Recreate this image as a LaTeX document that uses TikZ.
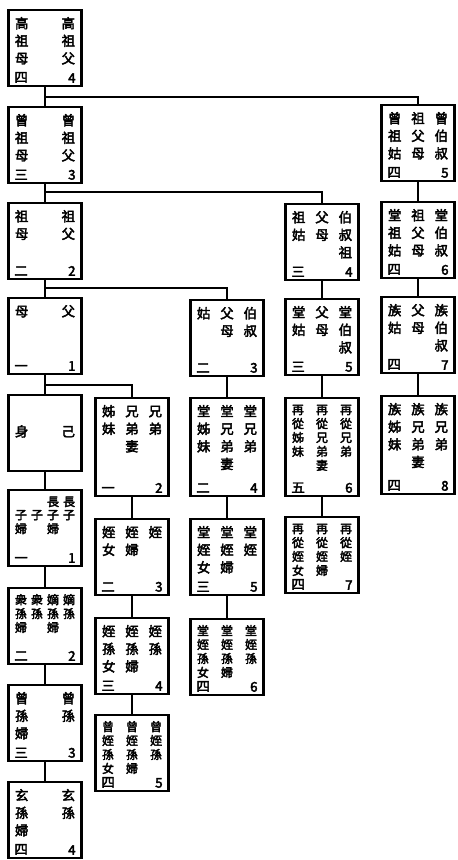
\documentclass[tikz,border=0pt]{standalone}
\usepackage{fontspec}
\usepackage{array}
\newfontfamily\cjk[AutoFakeBold=3]{Noto Sans CJK TC}
\newcommand\kcol[2]{\setlength\tabcolsep{0pt}\begin{tabular*}{1.5cm}[t]{@{\extracolsep{\fill}}#1@{}}#2\end{tabular*}}

\begin{document}
\begin{tikzpicture}[x=0.025cm, y=-0.025cm,
  kframe/.style={draw, line width=1.8pt, inner xsep=0.16cm, inner ysep=2pt, text width=1.5cm,
    minimum height=1.9cm, font=\cjk\bfseries\fontsize{9.5}{12.5}\selectfont},
  kbox/.style={kframe, text height=11pt, text depth=39pt},
  tall/.style={text depth=54.7pt},
  dense/.style={font=\cjk\bfseries\fontsize{8.5}{9.2}\selectfont, text height=9.5pt, text depth=40.5pt},
  tallden/.style={dense, text depth=56.2pt},
  knum/.style={font=\cjk\bfseries\fontsize{9.5}{10}\selectfont, inner xsep=0.17cm, inner ysep=3pt,
    text width={}, text height={}, text depth={}, draw=none},
  rnum/.style={label={[knum, anchor=south east]south east:#1}},
  lnum/.style={label={[knum, anchor=south west]south west:#1}},
  link/.style={line width=1.4pt}]
  \useasboundingbox (0,0) rectangle (458,860);

  \node[kbox, rnum=4, lnum=四] (gaozu) at (45,48) {\kcol{cc}{高&高\\祖&祖\\母&父}};
  \node[kbox, rnum=3, lnum=三] (zengzu) at (45,145) {\kcol{cc}{曾&曾\\祖&祖\\母&父}};
  \node[kbox, rnum=2, lnum=二] (zu) at (45,241) {\kcol{cc}{祖&祖\\母&父}};
  \node[kbox, rnum=1, lnum=一] (fu) at (45,336) {\kcol{cc}{母&父}};
  \node[kframe] (ji) at (45,433) {\kcol{cc}{身&己}};
  \node[kbox, dense, rnum=1, lnum=一] (zi) at (45,528) {\kcol{cccc}{&&長&長\\子&子&子&子\\婦&&婦&}};
  \node[kbox, dense, rnum=2, lnum=二] (sun) at (45,626) {\kcol{cccc}{衆&衆&嫡&嫡\\孫&孫&孫&孫\\婦&&婦&}};
  \node[kbox, rnum=3, lnum=三] (zengsun) at (45,723) {\kcol{cc}{曾&曾\\孫&孫\\婦&}};
  \node[kbox, rnum=4, lnum=四] (xuansun) at (45,820) {\kcol{cc}{玄&玄\\孫&孫\\婦&}};

  \node[kbox, tall, rnum=2, lnum=一] (xiongdi) at (132,447) {\kcol{ccc}{姊&兄&兄\\妹&弟&弟\\&妻&}};
  \node[kbox, rnum=3, lnum=二] (zhi) at (132,557) {\kcol{ccc}{姪&姪&姪\\女&婦&}};
  \node[kbox, rnum=4, lnum=三] (zhisun) at (132,656) {\kcol{ccc}{姪&姪&姪\\孫&孫&孫\\女&婦&}};
  \node[kbox, dense, rnum=5, lnum=四] (zengzhisun) at (132,753) {\kcol{ccc}{曾&曾&曾\\姪&姪&姪\\孫&孫&孫\\女&婦&}};

  \node[kbox, rnum=3, lnum=二] (boshu) at (227,338) {\kcol{ccc}{姑&父&伯\\&母&叔}};
  \node[kbox, tall, rnum=4, lnum=二] (tangxiong) at (227,447) {\kcol{ccc}{堂&堂&堂\\姊&兄&兄\\妹&弟&弟\\&妻&}};
  \node[kbox, rnum=5, lnum=三] (tangzhi) at (227,557) {\kcol{ccc}{堂&堂&堂\\姪&姪&姪\\女&婦&}};
  \node[kbox, dense, rnum=6, lnum=四] (tangzhisun) at (227,657) {\kcol{ccc}{堂&堂&堂\\姪&姪&姪\\孫&孫&孫\\女&婦&}};

  \node[kbox, rnum=4, lnum=三] (bozu) at (322,242) {\kcol{ccc}{祖&父&伯\\姑&母&叔\\&&祖}};
  \node[kbox, rnum=5, lnum=三] (tangbo) at (322,337) {\kcol{ccc}{堂&父&堂\\姑&母&伯\\&&叔}};
  \node[kbox, tallden, rnum=6, lnum=五] (zaicong) at (322,447) {\kcol{ccc}{再&再&再\\從&從&從\\姊&兄&兄\\妹&弟&弟\\&妻&}};
  \node[kbox, dense, rnum=7, lnum=四] (zaicongzhi) at (322,555) {\kcol{ccc}{再&再&再\\從&從&從\\姪&姪&姪\\女&婦&}};

  \node[kbox, rnum=5, lnum=四] (zengbozu) at (418,143) {\kcol{ccc}{曾&祖&曾\\祖&父&伯\\姑&母&叔}};
  \node[kbox, rnum=6, lnum=四] (tangbozu) at (418,240) {\kcol{ccc}{堂&祖&堂\\祖&父&伯\\姑&母&叔}};
  \node[kbox, rnum=7, lnum=四] (zubo) at (418,335) {\kcol{ccc}{族&父&族\\姑&母&伯\\&&叔}};
  \node[kbox, tall, rnum=8, lnum=四] (zuxiong) at (418,445) {\kcol{ccc}{族&族&族\\姊&兄&兄\\妹&弟&弟\\&妻&}};

  \coordinate (j1) at (45,97);
  \coordinate (j2) at (45,192);
  \coordinate (j3) at (45,288);
  \coordinate (j4) at (45,385);

  \draw[link] (gaozu) -- (zengzu);
  \draw[link] (zengzu) -- (zu);
  \draw[link] (zu) -- (fu);
  \draw[link] (fu) -- (ji);
  \draw[link] (ji) -- (zi);
  \draw[link] (zi) -- (sun);
  \draw[link] (sun) -- (zengsun);
  \draw[link] (zengsun) -- (xuansun);

  \draw[link] (j1) -| (zengbozu);
  \draw[link] (j2) -| (bozu);
  \draw[link] (j3) -| (boshu);
  \draw[link] (j4) -| (xiongdi);

  \draw[link] (xiongdi) -- (zhi);
  \draw[link] (zhi) -- (zhisun);
  \draw[link] (zhisun) -- (zengzhisun);

  \draw[link] (boshu) -- (tangxiong);
  \draw[link] (tangxiong) -- (tangzhi);
  \draw[link] (tangzhi) -- (tangzhisun);

  \draw[link] (bozu) -- (tangbo);
  \draw[link] (tangbo) -- (zaicong);
  \draw[link] (zaicong) -- (zaicongzhi);

  \draw[link] (zengbozu) -- (tangbozu);
  \draw[link] (tangbozu) -- (zubo);
  \draw[link] (zubo) -- (zuxiong);
\end{tikzpicture}
\end{document}
